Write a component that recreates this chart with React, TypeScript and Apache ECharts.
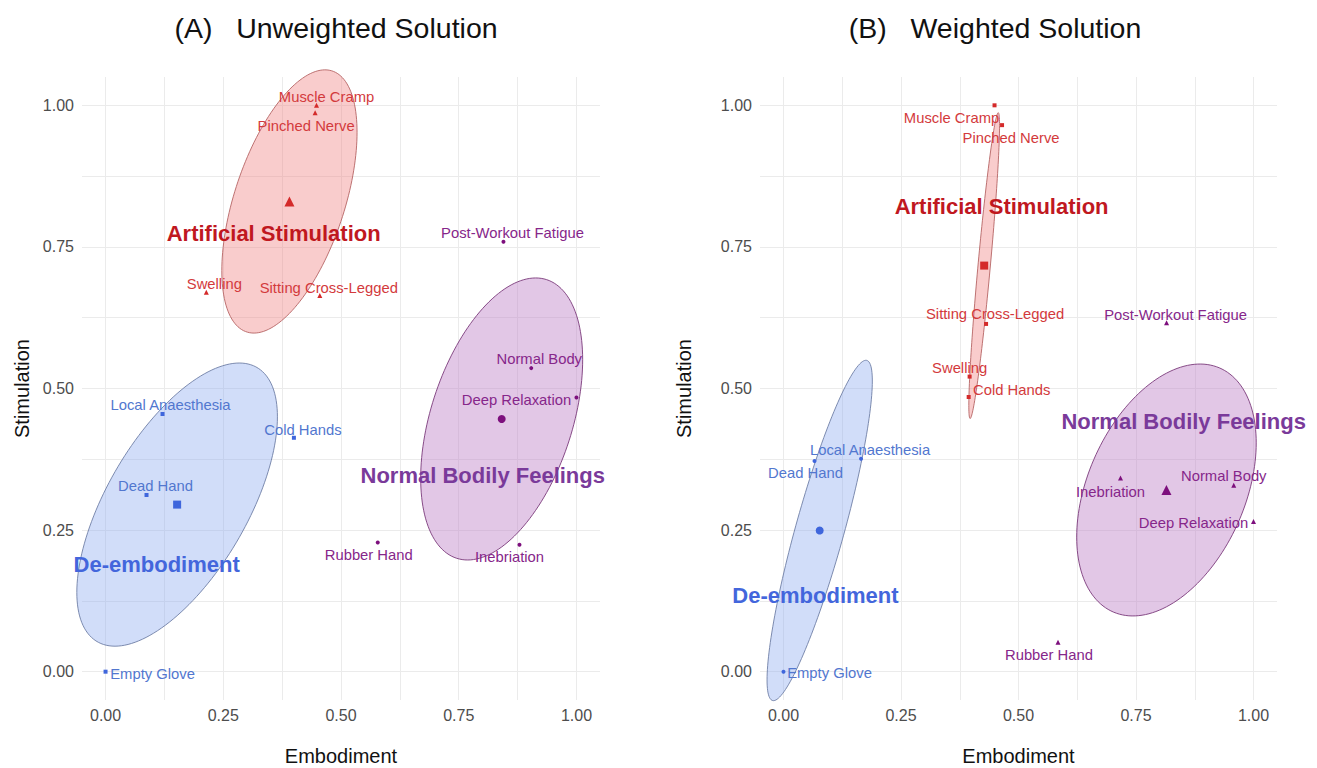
import React, { useEffect, useRef } from "react";
import * as echarts from "echarts";

// ---------- Panel A: unweighted solution ----------
const unwStimNames = ["Muscle Cramp", "Pinched Nerve", "Swelling", "Sitting Cross-Legged"];
const unwStimX = [0.448, 0.445, 0.214, 0.455];
const unwStimY = [1.0, 0.987, 0.67, 0.664];

const unwDeembNames = ["Local Anaesthesia", "Cold Hands", "Dead Hand", "Empty Glove"];
const unwDeembX = [0.121, 0.4, 0.087, 0.0];
const unwDeembY = [0.455, 0.413, 0.312, 0.0];

const unwNormNames = ["Post-Workout Fatigue", "Normal Body", "Deep Relaxation", "Rubber Hand", "Inebriation"];
const unwNormX = [0.845, 0.904, 1.0, 0.578, 0.879];
const unwNormY = [0.759, 0.536, 0.484, 0.228, 0.224];

// ---------- Panel B: weighted solution ----------
const wStimNames = ["Muscle Cramp", "Pinched Nerve", "Sitting Cross-Legged", "Swelling", "Cold Hands"];
const wStimX = [0.449, 0.465, 0.431, 0.396, 0.394];
const wStimY = [1.0, 0.965, 0.614, 0.521, 0.485];

const wDeembNames = ["Local Anaesthesia", "Dead Hand", "Empty Glove"];
const wDeembX = [0.165, 0.066, 0.0];
const wDeembY = [0.376, 0.372, 0.0];

const wNormNames = ["Post-Workout Fatigue", "Normal Body", "Inebriation", "Deep Relaxation", "Rubber Hand"];
const wNormX = [0.815, 0.958, 0.717, 1.0, 0.584];
const wNormY = [0.616, 0.329, 0.342, 0.265, 0.052];

// Cluster names
const clusterNames = ["Artificial Stimulation", "De-embodiment", "Normal Bodily Feelings"];

// Axis ticks
const majorTicks = [0, 0.25, 0.5, 0.75, 1];
const gridTicks = [0, 0.125, 0.25, 0.375, 0.5, 0.625, 0.75, 0.875, 1];

// ---------- Layout / styling ----------
const FONT = "'Liberation Sans', Arial, Helvetica, sans-serif";

const palette = {
  stim: { point: "#d42a2a", label: "#d33a3c", title: "#c0181f", fill: "rgba(240,128,128,0.40)", stroke: "#b56464" },
  deemb: { point: "#3f66dc", label: "#5277cf", title: "#4366dc", fill: "rgba(140,170,240,0.40)", stroke: "#6f7fa6" },
  norm: { point: "#7d0f7d", label: "#86268a", title: "#7a3a9a", fill: "rgba(190,130,200,0.45)", stroke: "#7b3a7b" },
};

// Label offsets (px) from each point, per panel
const labelOffsetsA: Record<string, [number, number]> = {
  "Muscle Cramp": [10, -8],
  "Pinched Nerve": [-9, 13],
  Swelling: [8, -8],
  "Sitting Cross-Legged": [9, -8],
  "Local Anaesthesia": [8, -9],
  "Cold Hands": [9, -8],
  "Dead Hand": [9, -9],
  "Empty Glove": [47, 2],
  "Post-Workout Fatigue": [9, -9],
  "Normal Body": [8, -9],
  "Deep Relaxation": [-60, 2],
  "Rubber Hand": [-9, 12],
  Inebriation: [-10, 12],
};
const labelOffsetsB: Record<string, [number, number]> = {
  "Muscle Cramp": [-43, 13],
  "Pinched Nerve": [9, 13],
  "Sitting Cross-Legged": [9, -10],
  Swelling: [-10, -9],
  "Cold Hands": [43, -7],
  "Local Anaesthesia": [9, -9],
  "Dead Hand": [-9, 12],
  "Empty Glove": [46, 1],
  "Post-Workout Fatigue": [9, -8],
  "Normal Body": [-10, -9],
  Inebriation: [-10, 14],
  "Deep Relaxation": [-60, 1],
  "Rubber Hand": [-9, 13],
};

// Where each cluster name is printed (data units), per panel
const clusterLabelXA = [0.357, 0.1085, 0.801];
const clusterLabelYA = [0.774, 0.19, 0.3456];
const clusterLabelXB = [0.464, 0.068, 0.8515];
const clusterLabelYB = [0.821, 0.1343, 0.4424];

// Ellipse shapes: half-width, half-height (data units) and x/y correlation
const ellipseShapeA = [
  { rx: 0.1436, ry: 0.2324, r: 0.526 },
  { rx: 0.213, ry: 0.25, r: 0.62 },
  { rx: 0.172, ry: 0.249, r: 0.42 },
];
const ellipseShapeB = [
  { rx: 0.0327, ry: 0.27, r: 0.915 },
  { rx: 0.112, ry: 0.3005, r: 0.878 },
  { rx: 0.191, ry: 0.2224, r: 0.374 },
];

type Group = { names: string[]; xs: number[]; ys: number[] };

const mean = (a: number[]) => a.reduce((s, v) => s + v, 0) / a.length;

function buildPanel(
  idx: number,
  groups: Group[],
  symbols: string[],
  pointSizes: number[],
  centroidSizes: number[],
  offsets: Record<string, [number, number]>,
  clX: number[],
  clY: number[],
  shapes: { rx: number; ry: number; r: number }[]
) {
  const keys: (keyof typeof palette)[] = ["stim", "deemb", "norm"];
  const series: any[] = [];
  groups.forEach((g, gi) => {
    const col = palette[keys[gi]];
    const cx = mean(g.xs);
    const cy = mean(g.ys);
    const shp = shapes[gi];
    // confidence ellipse around the group's centroid
    series.push({
      type: "custom",
      xAxisIndex: idx,
      yAxisIndex: idx,
      clip: false,
      silent: true,
      z: 1,
      data: [[cx, cy]],
      renderItem: (_p: any, api: any) => {
        const c0 = api.value(0);
        const c1 = api.value(1);
        const s = Math.sqrt(1 - shp.r * shp.r);
        const pts: number[][] = [];
        for (let i = 0; i <= 160; i++) {
          const t = (i / 160) * Math.PI * 2;
          pts.push(
            api.coord([
              c0 + shp.rx * Math.cos(t),
              c1 + shp.ry * (shp.r * Math.cos(t) + s * Math.sin(t)),
            ])
          );
        }
        return {
          type: "polygon",
          shape: { points: pts },
          style: { fill: col.fill, stroke: col.stroke, lineWidth: 0.9 },
        };
      },
    });
    // individual scenarios
    series.push({
      type: "scatter",
      xAxisIndex: idx,
      yAxisIndex: idx,
      z: 3,
      symbol: symbols[gi],
      symbolSize: pointSizes[gi],
      itemStyle: { color: col.point, opacity: 1 },
      data: g.names.map((n, i) => ({
        name: n,
        value: [g.xs[i], g.ys[i]],
        label: { offset: offsets[n] || [0, -10] },
      })),
      label: {
        show: true,
        position: "inside",
        formatter: (p: any) => p.name,
        color: col.label,
        fontFamily: FONT,
        fontSize: 14.8,
        align: "center",
        verticalAlign: "middle",
      },
    });
    // group centroid
    series.push({
      type: "scatter",
      xAxisIndex: idx,
      yAxisIndex: idx,
      z: 3,
      symbol: symbols[gi],
      symbolSize: centroidSizes[gi],
      itemStyle: { color: col.point, opacity: 1 },
      data: [[cx, cy]],
    });
    // cluster name
    series.push({
      type: "scatter",
      xAxisIndex: idx,
      yAxisIndex: idx,
      z: 4,
      symbolSize: 0,
      itemStyle: { opacity: 1 },
      data: [{ name: clusterNames[gi], value: [clX[gi], clY[gi]] }],
      label: {
        show: true,
        position: "inside",
        formatter: (p: any) => p.name,
        color: col.title,
        fontFamily: FONT,
        fontWeight: "bold",
        fontSize: 22,
        align: "center",
        verticalAlign: "middle",
      },
    });
  });
  return series;
}

function axisBase(name: string, nameGap: number, isY: boolean, gridIndex: number) {
  return {
    type: "value",
    gridIndex,
    min: -0.05,
    max: 1.05,
    name,
    nameLocation: "middle",
    nameGap,
    nameRotate: isY ? 90 : 0,
    nameTextStyle: { color: "#111", fontSize: 20, fontFamily: FONT },
    axisLine: { show: false },
    axisTick: { show: false, customValues: gridTicks },
    axisLabel: {
      customValues: majorTicks,
      formatter: (v: number) => v.toFixed(2),
      color: "#4d4d4d",
      fontSize: 16,
      fontFamily: FONT,
      margin: isY ? 8 : 7,
    },
    splitLine: { show: true, lineStyle: { color: "#ebebeb", width: 1 } },
  };
}

export default function App() {
  const ref = useRef<HTMLDivElement>(null);
  useEffect(() => {
    document.body.style.margin = "0";
    if (!ref.current) return;
    const chart = echarts.init(ref.current, null, { renderer: "svg" });

    const seriesA = buildPanel(
      0,
      [
        { names: unwStimNames, xs: unwStimX, ys: unwStimY },
        { names: unwDeembNames, xs: unwDeembX, ys: unwDeembY },
        { names: unwNormNames, xs: unwNormX, ys: unwNormY },
      ],
      ["triangle", "rect", "circle"],
      [5, 4, 4],
      [10, 8, 8],
      labelOffsetsA,
      clusterLabelXA,
      clusterLabelYA,
      ellipseShapeA
    );
    const seriesB = buildPanel(
      1,
      [
        { names: wStimNames, xs: wStimX, ys: wStimY },
        { names: wDeembNames, xs: wDeembX, ys: wDeembY },
        { names: wNormNames, xs: wNormX, ys: wNormY },
      ],
      ["rect", "circle", "triangle"],
      [4, 4, 5],
      [8, 8, 10],
      labelOffsetsB,
      clusterLabelXB,
      clusterLabelYB,
      ellipseShapeB
    );

    chart.setOption({
      animation: false,
      backgroundColor: "#ffffff",
      textStyle: { fontFamily: FONT },
      grid: [
        { left: 82, top: 77, width: 518, height: 623, outerBoundsMode: "none", containLabel: false },
        { left: 760, top: 77, width: 517, height: 623, outerBoundsMode: "none", containLabel: false },
      ],
      xAxis: [axisBase("Embodiment", 46, false, 0), axisBase("Embodiment", 46, false, 1)],
      yAxis: [axisBase("Stimulation", 50, true, 0), axisBase("Stimulation", 66, true, 1)],
      graphic: [
        {
          type: "text",
          x: 336,
          y: 28,
          style: {
            text: "(A)   Unweighted Solution",
            fill: "#111",
            font: `28.5px ${FONT}`,
            textAlign: "center",
            textVerticalAlign: "middle",
          },
        },
        {
          type: "text",
          x: 995,
          y: 28,
          style: {
            text: "(B)   Weighted Solution",
            fill: "#111",
            font: `28.5px ${FONT}`,
            textAlign: "center",
            textVerticalAlign: "middle",
          },
        },
      ],
      series: [...seriesA, ...seriesB],
    });
    return () => chart.dispose();
  }, []);
  return <div ref={ref} style={{ width: 1317, height: 768 }} />;
}
